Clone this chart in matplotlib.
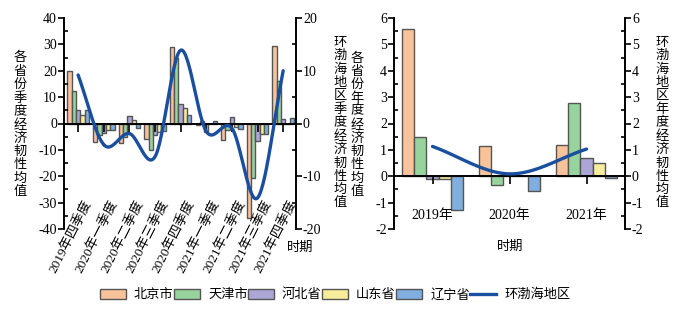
import numpy as np
import matplotlib
matplotlib.use('Agg')
import matplotlib.pyplot as plt
from matplotlib.patches import Patch
from matplotlib.lines import Line2D
from matplotlib.ticker import MultipleLocator

plt.rcParams['font.family'] = ['Liberation Serif', 'Noto Sans CJK SC', 'DejaVu Sans']
plt.rcParams['axes.unicode_minus'] = False

# ---- data ----
provinces = ['北京市', '天津市', '河北省', '山东省', '辽宁省']
region_name = '环渤海地区'
quarters = ['2019年四季度', '2020年一季度', '2020年二季度', '2020年三季度', '2020年四季度',
            '2021年一季度', '2021年二季度', '2021年三季度', '2021年四季度']
q_beijing = [20.0, -7.0, -7.3, -5.7, 28.9, -0.4, -6.2, -35.7, 29.5]
q_tianjin = [12.3, -4.2, -5.0, -10.0, 24.7, 0.9, -2.3, -20.6, 16.3]
q_hebei = [5.1, -3.6, 2.9, -4.4, 7.5, -3.2, 2.6, -6.8, 1.7]
q_shandong = [3.4, -2.4, 1.5, -3.2, 5.8, -0.3, -1.5, -4.0, 0.0]
q_liaoning = [5.3, -2.5, -1.8, -3.0, 3.2, 0.9, -2.0, -4.0, 2.2]
q_region = [9.2, -4.0, -1.9, -6.3, 13.9, -1.5, -0.9, -14.1, 10.0]

years = ['2019年', '2020年', '2021年']
y_beijing = [5.58, 1.16, 1.18]
y_tianjin = [1.50, -0.32, 2.77]
y_hebei = [-0.12, 0.0, 0.69]
y_shandong = [-0.12, 0.0, 0.50]
y_liaoning = [-1.27, -0.57, -0.06]
y_region = [1.13, 0.09, 1.03]

colors = ['#F8C29B', '#97D39C', '#ABA6D3', '#F7EB9C', '#80AEDF']
edge = '#555555'
line_c = '#1A4FA0'
fam = ['Liberation Serif', 'Noto Sans CJK SC', 'DejaVu Sans']


def smooth(x, y, n=30):
    # catmull-rom curve through the points, drawing only
    x = np.asarray(x, float)
    y = np.asarray(y, float)
    px = np.concatenate([[2 * x[0] - x[1]], x, [2 * x[-1] - x[-2]]])
    py = np.concatenate([[2 * y[0] - y[1]], y, [2 * y[-1] - y[-2]]])
    xs, ys = [], []
    t = np.linspace(0, 1, n)
    for i in range(1, len(px) - 2):
        for p, out in ((px, xs), (py, ys)):
            p0, p1, p2, p3 = p[i - 1], p[i], p[i + 1], p[i + 2]
            out.extend(0.5 * (2 * p1 + (-p0 + p2) * t + (2 * p0 - 5 * p1 + 4 * p2 - p3) * t ** 2
                              + (-p0 + 3 * p1 - 3 * p2 + p3) * t ** 3))
    return xs, ys


def style_axes(ax, ax2):
    for a in (ax, ax2):
        a.spines['top'].set_visible(False)
        a.spines['bottom'].set_position(('data', 0))
        for s in a.spines.values():
            s.set_linewidth(1.4)
        for lab in a.get_yticklabels():
            lab.set_fontfamily(fam)
    ax2.spines['bottom'].set_visible(False)
    ax2.spines['left'].set_visible(False)
    ax.spines['right'].set_visible(False)
    ax.tick_params(axis='y', which='major', direction='out', length=4, width=1.2, labelsize=10, pad=1)
    ax.tick_params(axis='y', which='minor', direction='in', length=3, width=1.2)
    ax2.tick_params(axis='y', which='major', direction='out', length=4, width=1.2, labelsize=10, pad=1)
    ax2.tick_params(axis='y', which='minor', direction='in', length=3, width=1.2)
    ax.tick_params(axis='x', which='major', direction='out', length=6, width=1.2, labelbottom=False)
    ax.tick_params(axis='x', which='minor', bottom=False)


def vtext(x, y, s):
    fig.text(x, y, '\n'.join(s), family=fam, fontsize=9.5, ha='center', va='center',
             linespacing=1.12)


fig = plt.figure(figsize=(6.88, 3.15), dpi=100)

# ---- left: quarterly ----
ax = fig.add_axes([64 / 688, 1 - 229 / 315, 232 / 688, 211 / 315])
ax2 = ax.twinx()
xq = np.arange(len(quarters))
w = 0.168
for i, vals in enumerate([q_beijing, q_tianjin, q_hebei, q_shandong, q_liaoning]):
    ax.bar(xq + (i - 2) * w, vals, w, color=colors[i], edgecolor=edge, linewidth=1.0)
sx, sy = smooth(xq, q_region)
ax2.plot(sx, sy, color=line_c, lw=2.4, solid_capstyle='round')
ax.set_xlim(-0.55, 8.5)
ax.set_ylim(-40, 40)
ax2.set_ylim(-20, 20)
ax.yaxis.set_major_locator(MultipleLocator(10))
ax.yaxis.set_minor_locator(MultipleLocator(5))
ax2.yaxis.set_major_locator(MultipleLocator(10))
ax2.yaxis.set_minor_locator(MultipleLocator(5))
ax.set_xticks(xq)
style_axes(ax, ax2)
for i, lab in enumerate(quarters):
    ax.text(i + 0.42, -29.5, lab, family=fam, fontsize=9.5, rotation=63,
            rotation_mode='anchor', ha='right', va='center')
fig.text(300 / 688, 1 - 248 / 315, '时期', family=fam, fontsize=9.5, ha='center', va='center')
vtext(20 / 688, 1 - 125 / 315, '各省份季度经济韧性均值')
vtext(340 / 688, 1 - 123 / 315, '环渤海地区季度经济韧性均值')

# ---- right: yearly ----
bx = fig.add_axes([394 / 688, 1 - 229 / 315, 231 / 688, 211 / 315])
bx2 = bx.twinx()
xy = np.arange(len(years))
w = 0.16
for i, vals in enumerate([y_beijing, y_tianjin, y_hebei, y_shandong, y_liaoning]):
    bx.bar(xy + (i - 2) * w, vals, w, color=colors[i], edgecolor=edge, linewidth=1.0)
sx, sy = smooth(xy, y_region)
bx2.plot(sx, sy, color=line_c, lw=2.4, solid_capstyle='round')
bx.set_xlim(-0.5, 2.5)
bx.set_ylim(-2, 6)
bx2.set_ylim(-2, 6)
for a in (bx, bx2):
    a.yaxis.set_major_locator(MultipleLocator(1))
    a.yaxis.set_minor_locator(MultipleLocator(0.5))
bx.set_xticks(xy)
style_axes(bx, bx2)
for i, lab in enumerate(years):
    bx.text(i, -1.5, lab, family=fam, fontsize=10, ha='center', va='center')
fig.text(510 / 688, 1 - 247 / 315, '时期', family=fam, fontsize=9.5, ha='center', va='center')
vtext(357 / 688, 1 - 125 / 315, '各省份年度经济韧性均值')
vtext(662 / 688, 1 - 123 / 315, '环渤海地区年度经济韧性均值')

# ---- legend ----
handles = [Patch(facecolor=c, edgecolor=edge, linewidth=1.0) for c in colors]
handles.append(Line2D([0], [0], color=line_c, lw=2.4))
fig.legend(handles, provinces + [region_name], loc='center', bbox_to_anchor=(335 / 688, 1 - 295 / 315),
           ncol=6, frameon=False, prop={'family': fam, 'size': 9.5}, handlelength=2.0,
           handleheight=0.8, handletextpad=0.6, columnspacing=0.0)

fig.savefig('out.png', dpi=100)
